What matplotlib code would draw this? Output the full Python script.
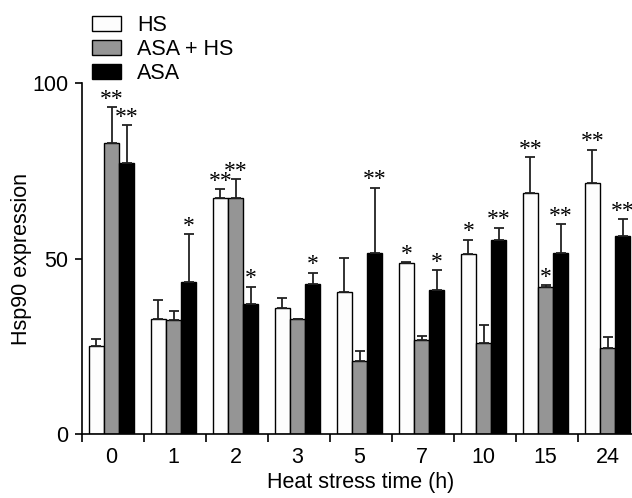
import numpy as np
import matplotlib
matplotlib.use("Agg")
import matplotlib.pyplot as plt

plt.rcParams['font.family'] = ['Liberation Sans', 'DejaVu Sans']

# data
times = ['0', '1', '2', '3', '5', '7', '10', '15', '24']
hs = [25.1, 32.7, 67.3, 36.0, 40.5, 48.6, 51.3, 68.8, 71.4]
hs_err = [1.9, 5.5, 2.4, 2.7, 9.6, 0.4, 4.1, 10.0, 9.6]
asa_hs = [82.8, 32.5, 67.1, 32.9, 20.8, 26.8, 26.0, 42.0, 24.4]
asa_hs_err = [10.3, 2.6, 5.5, 0.0, 2.9, 1.1, 5.1, 0.5, 3.3]
asa = [77.1, 43.4, 37.0, 42.7, 51.7, 41.0, 55.3, 51.7, 56.5]
asa_err = [10.9, 13.6, 5.0, 3.3, 18.5, 5.7, 3.5, 8.0, 4.7]
# significance marks
hs_sig = ['', '', '**', '', '', '*', '*', '**', '**']
asa_hs_sig = ['**', '', '**', '', '', '', '', '*', '']
asa_sig = ['**', '*', '*', '*', '**', '*', '**', '**', '**']

fs = 15.5

fig = plt.figure(figsize=(6.32, 4.98), dpi=100)
ax = fig.add_axes([82 / 632, 64 / 498, 558 / 632, 351 / 498])

w = 0.245
x = np.arange(len(times)) + 0.476
series = [
    (hs, hs_err, hs_sig, '#fdfdfd', 'HS', -w),
    (asa_hs, asa_hs_err, asa_hs_sig, '#959595', 'ASA + HS', 0),
    (asa, asa_err, asa_sig, '#000000', 'ASA', w),
]
for vals, errs, sigs, col, lab, off in series:
    ax.bar(x + off, vals, w, color=col, edgecolor='black', linewidth=1.0, label=lab, zorder=2)
    ax.errorbar(x + off, vals, yerr=[np.zeros(len(errs)), errs], fmt='none',
                ecolor='#222222', elinewidth=1.3, capsize=3.5, capthick=1.3, zorder=3)
    for xi, v, e, s in zip(x + off, vals, errs, sigs):
        if s:
            ax.annotate(s, (xi, v + e), xytext=(0, -2), textcoords='offset points',
                        ha='center', va='bottom', fontsize=17, family='Liberation Serif',
                        annotation_clip=False)

ax.set_xlim(0, 9)
ax.set_ylim(0, 100)
ax.set_yticks([0, 50, 100])
ax.set_xticks(x)
ax.set_xticklabels(times)
ax.set_xticks(np.arange(0, 10), minor=True)
ax.tick_params(axis='x', which='major', length=0, pad=9, labelsize=fs)
ax.tick_params(axis='x', which='minor', length=6, width=1.2)
ax.tick_params(axis='y', length=5, width=1.2, labelsize=fs, pad=5)
for sp in ['top', 'right']:
    ax.spines[sp].set_visible(False)
for sp in ['left', 'bottom']:
    ax.spines[sp].set_linewidth(1.2)

ax.set_ylabel('Hsp90 expression', fontsize=fs, labelpad=0)
ax.set_xlabel('Heat stress time (h)', fontsize=fs, labelpad=3)

leg = fig.legend(loc='upper left', bbox_to_anchor=(92 / 632, 1 - 15 / 498), frameon=False,
                 fontsize=fs, handlelength=1.35, handleheight=0.7,
                 labelspacing=0.15, handletextpad=0.75, borderpad=0, borderaxespad=0)

fig.savefig('out.png', dpi=100)
